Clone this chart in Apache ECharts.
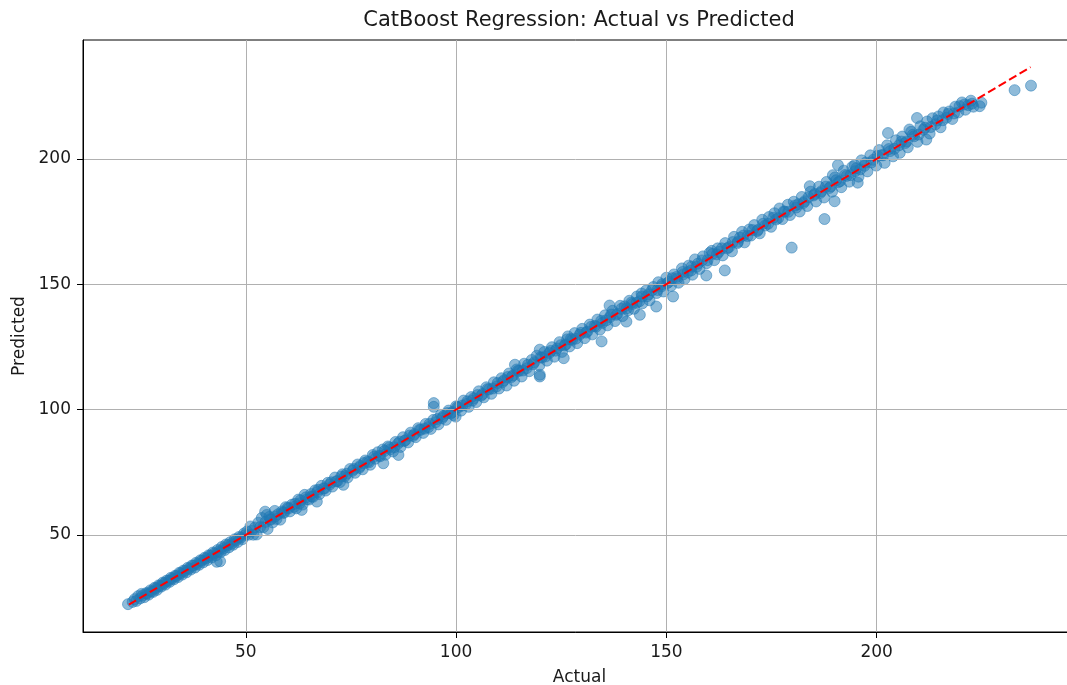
<!DOCTYPE html>
<html>
<head>
<meta charset="utf-8">
<title>CatBoost Regression: Actual vs Predicted</title>
<script src="https://cdn.jsdelivr.net/npm/echarts@6/dist/echarts.min.js"></script>
<style>
  html, body {
    margin: 0;
    padding: 0;
    background: #fff;
  }
  #chart {
    width: 1067px;
    height: 685px;
  }
</style>
</head>
<body>
<div id="chart"></div>
<script>
// [actual, predicted] pairs
const actualPredicted = [
  [22.0, 22.4], [23.1, 23.3], [23.6, 24.4], [24.0, 23.7], [24.4, 25.6], [24.9, 24.7], [25.2, 26.5], [25.5, 25.9],
  [25.9, 25.2], [26.3, 26.8], [26.6, 26.7], [26.9, 26.2], [27.3, 27.9], [27.6, 27.5], [28.0, 27.3], [28.3, 28.9],
  [28.6, 28.7], [28.9, 28.1], [29.3, 29.9], [29.6, 29.7], [29.9, 29.4], [30.3, 31.0], [30.6, 30.7], [30.9, 30.2],
  [31.2, 31.8], [31.6, 31.7], [31.9, 31.3], [32.2, 32.9], [32.5, 32.6], [32.9, 32.3], [33.2, 33.7], [33.5, 33.6],
  [33.9, 33.2], [34.2, 34.9], [34.5, 34.7], [34.9, 34.2], [35.2, 35.8], [35.5, 35.6], [35.9, 35.1], [36.2, 36.9],
  [36.5, 36.6], [36.9, 36.2], [37.2, 37.8], [37.5, 37.7], [37.9, 37.0], [38.2, 38.9], [38.5, 38.5], [38.9, 38.1],
  [39.2, 39.9], [39.5, 39.7], [39.9, 39.1], [40.2, 40.9], [40.5, 40.6], [40.9, 40.0], [41.2, 41.9], [41.5, 41.7],
  [41.9, 41.0], [42.2, 43.0], [42.5, 42.6], [42.9, 41.9], [43.1, 39.3], [43.3, 44.0], [43.6, 43.5], [43.9, 39.5],
  [44.0, 43.1], [44.3, 45.2], [44.7, 44.6], [45.0, 44.0], [45.3, 46.2], [45.7, 45.9], [46.0, 45.1], [46.3, 47.1],
  [46.7, 46.6], [47.0, 46.1], [47.4, 48.3], [47.7, 47.9], [48.1, 47.2], [48.4, 49.2], [48.8, 48.9], [49.2, 48.3],
  [49.6, 50.6], [49.9, 50.0],
  [50.3, 51.4], [50.7, 50.1], [51.1, 53.4], [51.4, 51.6], [51.8, 50.1], [52.2, 53.0], [52.6, 50.2], [53.0, 54.9],
  [53.4, 53.1], [53.8, 56.8], [54.2, 53.1], [54.6, 59.3], [54.7, 55.2], [55.0, 58.0], [55.2, 52.4], [55.6, 57.2],
  [56.0, 56.1], [56.4, 55.0], [56.9, 59.6], [57.3, 56.4], [57.7, 58.3], [58.2, 56.1], [58.6, 59.4], [59.1, 58.8],
  [59.5, 61.1], [60.0, 60.9], [60.5, 59.4], [61.0, 62.1], [61.5, 61.2], [62.0, 60.6], [62.5, 64.1], [63.0, 63.8],
  [63.3, 60.0], [63.5, 62.1], [64.0, 66.0], [64.5, 64.2], [65.0, 64.1], [65.5, 66.3], [66.0, 65.2], [66.5, 67.8],
  [66.9, 63.3], [67.0, 67.1], [67.5, 66.3], [68.0, 69.6], [68.5, 68.6], [69.0, 67.7], [69.5, 70.8], [70.0, 70.2],
  [70.6, 69.3], [71.2, 72.9], [71.8, 71.5], [72.4, 71.1], [73.0, 74.2], [73.2, 70.0], [73.6, 73.5], [74.2, 72.9],
  [74.8, 76.3],
  [75.4, 75.6], [76.0, 74.8], [76.6, 78.1], [77.2, 77.5], [77.8, 76.2], [78.4, 79.7], [79.0, 79.3], [79.6, 78.0],
  [80.2, 81.9], [80.8, 80.4], [81.4, 83.0], [82.0, 81.4], [82.7, 78.6], [82.6, 84.1], [83.2, 82.0], [83.8, 85.3],
  [84.4, 84.2], [85.0, 83.3], [85.6, 87.1], [86.3, 81.9], [86.2, 86.4], [86.8, 85.1], [87.4, 89.0], [88.0, 87.8],
  [88.6, 86.9], [89.2, 90.8], [89.8, 89.5], [90.4, 89.0], [91.0, 92.6], [91.6, 91.9], [92.2, 90.7], [92.8, 94.3],
  [93.4, 93.0], [94.0, 92.3], [94.7, 102.6], [94.7, 101.1], [94.6, 95.9], [95.2, 95.0], [95.8, 94.1], [96.4, 97.9],
  [97.0, 97.4], [97.6, 95.9], [98.2, 99.6], [98.8, 98.5], [99.4, 97.8], [99.9, 97.2], [100.0, 101.3],
  [100.6, 100.9], [101.2, 99.6], [101.8, 103.6], [102.4, 102.2], [103.0, 101.1], [103.6, 105.0], [104.2, 104.5],
  [104.8, 103.0], [105.4, 107.3], [106.0, 105.6], [106.6, 104.9], [107.2, 108.9], [107.8, 108.0], [108.4, 106.3],
  [109.0, 110.9], [109.6, 109.2], [110.2, 108.4], [110.8, 112.5], [111.4, 111.7], [112.0, 109.6], [112.6, 114.4],
  [113.2, 113.0], [113.8, 111.5], [114.0, 117.9], [114.4, 116.0], [115.0, 115.4], [115.6, 113.2], [116.2, 118.3],
  [116.8, 116.5], [117.4, 115.3], [118.0, 119.8], [118.6, 118.9], [119.2, 121.5], [119.9, 113.2], [119.9, 113.9],
  [119.9, 123.9], [119.8, 117.6], [120.4, 120.7], [121.0, 123.0], [121.6, 119.5], [122.2, 122.6], [122.8, 124.9],
  [123.4, 121.1], [124.0, 124.4], [124.6, 126.9], [125.2, 123.0], [125.6, 120.5], [125.8, 125.6], [126.6, 129.2],
  [126.4, 128.0], [127.0, 125.2], [127.6, 127.8], [128.2, 130.5], [128.8, 126.5], [129.4, 129.9], [130.0, 132.2],
  [130.6, 128.5], [131.2, 131.1], [131.8, 133.9], [132.4, 130.0], [133.0, 133.4], [133.6, 135.9], [134.2, 131.9],
  [134.6, 127.2], [134.8, 134.6], [135.4, 137.6], [136.0, 133.6], [136.5, 141.5], [136.6, 136.9], [137.2, 139.4],
  [137.8, 135.3], [138.4, 138.2], [139.0, 141.4], [139.6, 137.3],
  [140.1, 141.2], [140.5, 135.1], [140.9, 139.6], [141.2, 143.4], [141.9, 142.1], [142.3, 140.2], [143.0, 145.1],
  [143.7, 137.8], [143.6, 143.2], [144.1, 146.3], [144.3, 142.4], [145.2, 147.5], [145.8, 146.0], [146.0, 143.6],
  [146.9, 148.9], [147.6, 141.1], [147.7, 146.5], [148.1, 150.8], [148.9, 149.2], [149.3, 147.1], [150.0, 152.6],
  [150.2, 150.4], [151.1, 149.3], [151.6, 145.1], [151.8, 153.9], [152.4, 152.9], [152.9, 150.6], [153.7, 156.3],
  [154.1, 154.0], [154.3, 152.0], [155.3, 157.4], [155.9, 155.5], [156.2, 153.8], [156.8, 159.9], [157.5, 158.2],
  [157.9, 156.1], [158.7, 161.1], [159.5, 153.5], [159.6, 158.4], [160.3, 162.5], [160.8, 163.3], [161.4, 159.6],
  [162.2, 164.3], [162.5, 162.9], [163.4, 161.5], [163.9, 155.5], [164.0, 166.4], [164.9, 164.8], [165.6, 163.1],
  [166.1, 168.9], [166.9, 166.4], [167.5, 168.6], [168.0, 170.9], [168.6, 166.7], [169.7, 171.8], [170.1, 169.4],
  [170.9, 173.6], [171.6, 171.2], [172.2, 170.3], [172.8, 175.7], [173.5, 173.4], [174.4, 176.8], [174.9, 172.9],
  [175.7, 178.3], [176.1, 175.8], [176.9, 180.2], [177.6, 176.0], [178.2, 178.9], [178.9, 181.7], [179.4, 177.6],
  [179.8, 164.6],
  [180.3, 182.9], [180.9, 180.6], [181.7, 179.0], [182.2, 184.8], [182.9, 183.1], [183.5, 181.2], [184.1, 189.1],
  [184.3, 186.9], [185.0, 185.4], [185.6, 183.0], [186.3, 188.9], [186.9, 187.1], [187.6, 176.0], [187.5, 184.6],
  [188.1, 190.8], [188.8, 188.4], [189.6, 193.5], [189.4, 186.9], [190.0, 183.1], [190.1, 192.6], [190.8, 197.5],
  [190.9, 190.7], [191.6, 188.7], [192.2, 195.3], [192.9, 193.2], [193.5, 190.9], [194.2, 196.8], [194.8, 197.5],
  [194.9, 195.1], [195.5, 190.5], [195.7, 192.9], [196.4, 199.4], [197.1, 197.2], [197.8, 195.0], [198.5, 201.4],
  [199.2, 199.6], [199.9, 197.3], [200.6, 203.5], [201.2, 201.5], [201.9, 198.4], [202.5, 205.4], [202.7, 210.3],
  [203.2, 203.1], [203.9, 201.0], [204.6, 207.4], [205.3, 205.4], [205.5, 202.4], [206.1, 208.9], [206.8, 206.3],
  [207.4, 204.6], [207.8, 211.7], [208.2, 210.8], [208.9, 209.0], [209.6, 216.3], [209.7, 206.8], [210.4, 213.0],
  [211.1, 211.6], [211.8, 207.7], [212.0, 214.9], [212.6, 210.1], [213.3, 216.2], [214.0, 213.8], [214.7, 216.9],
  [215.2, 212.6], [215.9, 218.5], [216.6, 216.4], [217.3, 218.9], [218.0, 215.9], [218.7, 220.8], [219.4, 218.5],
  [219.7, 221.0], [220.3, 222.5], [221.1, 219.6], [221.8, 221.4], [222.4, 223.2], [223.0, 220.8], [224.5, 221.0],
  [224.9, 222.4],
  [232.8, 227.4], [236.7, 229.2],
  // points packed close to the line in the middle and upper ranges
  [55.8, 56.3], [57.0, 57.4], [58.9, 59.0], [60.2, 60.6], [61.7, 62.4], [62.8, 62.6], [64.3, 65.0], [65.7, 65.4],
  [67.2, 68.0], [68.7, 68.5], [70.3, 71.0], [71.5, 71.4], [72.7, 73.3], [74.0, 74.4], [75.7, 76.3], [77.0, 76.8],
  [78.1, 78.7], [79.3, 79.0], [80.5, 81.2], [81.7, 81.6], [83.0, 83.5], [84.1, 84.9], [85.3, 85.0], [86.6, 87.2],
  [87.7, 87.5], [88.9, 89.6], [90.1, 90.2], [91.3, 92.0], [92.5, 92.4], [93.7, 94.3], [95.5, 96.2], [96.7, 96.6],
  [97.9, 98.6], [99.1, 99.0], [100.3, 101.0], [101.5, 101.6], [102.7, 103.3], [103.9, 103.6], [105.1, 105.8],
  [106.3, 106.2], [107.5, 108.2], [108.7, 108.4], [109.9, 110.6], [111.1, 111.0], [112.3, 113.0], [113.5, 113.6],
  [114.7, 115.5], [115.9, 115.6], [117.1, 117.9], [118.3, 118.1], [120.1, 120.9], [121.3, 121.2], [122.5, 123.4],
  [123.7, 123.5], [124.9, 125.7], [126.1, 126.0], [127.3, 128.2], [128.5, 128.3], [129.7, 130.6], [130.9, 130.7],
  [132.1, 133.0], [133.3, 133.1], [134.5, 135.4], [135.7, 135.6], [136.9, 137.9], [138.1, 137.8], [139.3, 140.2],
  [140.6, 140.4], [141.7, 142.7], [142.9, 142.6], [144.2, 145.1], [145.4, 145.2], [146.6, 147.6], [147.9, 147.7],
  [149.0, 150.0], [150.6, 150.9], [151.4, 152.4], [152.6, 152.3], [153.9, 154.9], [155.1, 154.8], [156.0, 157.0],
  [157.2, 157.0], [158.5, 159.5], [159.8, 159.6], [161.0, 162.1], [162.0, 161.9], [163.2, 164.3], [164.5, 164.3],
  [165.8, 166.8], [167.0, 166.9], [168.3, 169.4], [169.3, 169.2], [170.5, 171.6], [171.8, 171.7], [173.0, 174.1],
  [174.2, 174.1], [175.4, 176.5], [176.6, 176.4], [177.9, 179.0], [179.0, 178.9], [180.6, 181.4], [181.4, 181.9],
  [182.6, 182.4], [183.8, 184.7], [185.3, 186.0], [186.6, 186.4], [187.9, 188.9], [189.1, 189.0], [190.4, 191.5],
  [191.3, 191.1], [192.5, 193.6], [193.8, 193.5], [195.2, 196.3], [196.1, 195.8], [197.4, 198.5], [198.8, 198.6],
  [200.2, 201.2], [201.5, 201.4], [202.9, 203.9], [204.2, 204.0], [205.9, 206.9], [207.1, 206.9], [208.6, 209.6],
  [210.0, 209.7], [211.5, 212.4], [212.9, 212.7], [214.4, 215.3], [215.7, 215.4], [217.0, 217.9], [218.4, 218.1],
  [220.9, 221.7], [222.7, 222.0]
]
// ideal line: min to max of the actual values
const lineEnds = [22.2, 236.6]
const xTicks = [50, 100, 150, 200]
const yTicks = [50, 100, 150, 200]
const axisMin = 11.3
const axisMax = 247.4

const textColor = '#1a1a1a'
const font = 'DejaVu Sans'

let myChart = echarts.init(document.getElementById('chart'), null, { renderer: 'canvas' })
myChart.setOption({
  animation: false,
  backgroundColor: '#fff',
  grid: {
    left: 83,
    top: 40,
    width: 993,   // the right spine sits just outside the picture
    height: 592,
    containLabel: false,
    outerBoundsMode: 'none',
    show: true,
    borderColor: '#000',
    borderWidth: 1
  },
  graphic: [{
    type: 'text',
    x: 579,
    y: 21,
    style: {
      text: 'CatBoost Regression: Actual vs Predicted',
      textAlign: 'center',
      textVerticalAlign: 'middle',
      fontFamily: font,
      fontSize: 21,
      fill: textColor
    }
  }],
  xAxis: {
    type: 'value',
    min: axisMin,
    max: axisMax,
    z: 3,   // grid lines sit over the dots, as in the reference
    name: 'Actual',
    nameLocation: 'middle',
    nameGap: 37,
    nameTextStyle: { fontFamily: font, fontSize: 17, color: textColor },
    axisLine: { onZero: false, lineStyle: { color: '#000', width: 1 } },
    axisTick: { show: true, length: 6, customValues: xTicks, lineStyle: { color: '#000' } },
    axisLabel: { customValues: xTicks, margin: 12, fontFamily: font, fontSize: 17, color: textColor },
    splitLine: { show: true, lineStyle: { color: '#b0b0b0', width: 1 } }
  },
  yAxis: {
    type: 'value',
    min: axisMin,
    max: axisMax,
    z: 3,
    name: 'Predicted',
    nameLocation: 'middle',
    nameGap: 54,
    nameTextStyle: { fontFamily: font, fontSize: 17, color: textColor },
    axisLine: { onZero: false, lineStyle: { color: '#000', width: 1 } },
    axisTick: { show: true, length: 6, customValues: yTicks, lineStyle: { color: '#000' } },
    axisLabel: { customValues: yTicks, margin: 12, fontFamily: font, fontSize: 17, color: textColor },
    splitLine: { show: true, lineStyle: { color: '#b0b0b0', width: 1 } }
  },
  series: [
    {
      type: 'scatter',
      data: actualPredicted,
      symbolSize: 11,
      z: 2,
      itemStyle: {
        color: '#1f77b4',
        borderColor: '#1f77b4',
        borderWidth: 1,
        opacity: 0.5
      }
    },
    {
      type: 'line',
      data: [[lineEnds[0], lineEnds[0]], [lineEnds[1], lineEnds[1]]],
      symbol: 'none',
      z: 4,
      lineStyle: { color: '#ff0000', width: 2, type: [8.5, 3.7] }
    }
  ]
})
</script>
</body>
</html>
